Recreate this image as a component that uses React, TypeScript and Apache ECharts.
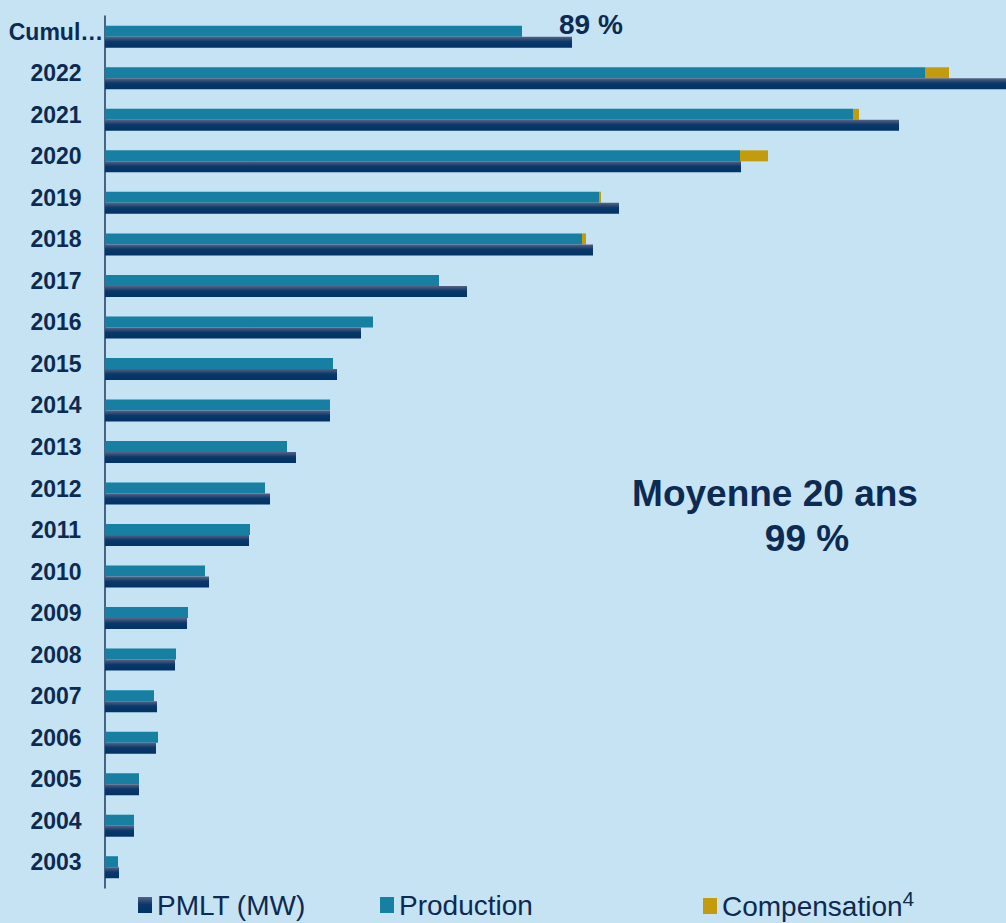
import React, { useEffect, useRef } from "react";
import * as echarts from "echarts";

const categories = ["Cumul…", "2022", "2021", "2020", "2019", "2018", "2017", "2016", "2015", "2014", "2013", "2012", "2011", "2010", "2009", "2008", "2007", "2006", "2005", "2004", "2003"];
const production = [417, 820, 748, 635, 494, 477, 334, 268, 228, 225, 182, 160, 145, 100, 83, 71, 49, 53, 34, 29, 13];
const compensation = [0, 24, 6, 28, 2, 4, 0, 0, 0, 0, 0, 0, 0, 0, 0, 0, 0, 0, 0, 0, 0];
const pmlt = [467, 901, 794, 636, 514, 488, 362, 256, 232, 225, 191, 165, 144, 104, 82, 70, 52, 51, 34, 29, 14];
const cumulLabel = "89 %";
const averageTitle = "Moyenne 20 ans";
const averageValue = "99 %";

const TEXT = "#0c2a52";
const FONT = '"Liberation Sans", Arial, sans-serif';

export default function App() {
  const ref = useRef<HTMLDivElement>(null);
  useEffect(() => {
    if (!ref.current) return;
    const chart = echarts.init(ref.current, null, { renderer: "svg" });
    const pmltColor = new echarts.graphic.LinearGradient(0, 0, 0, 1, [
      { offset: 0, color: "#5a6282" },
      { offset: 0.45, color: "#0a386a" },
      { offset: 1, color: "#003366" },
    ]);
    const legendBase = {
      orient: "horizontal",
      top: 886,
      itemWidth: 14,
      itemHeight: 16,
      icon: "rect",
      textStyle: { color: TEXT, fontSize: 28, fontFamily: FONT },
    };
    chart.setOption({
      animation: false,
      backgroundColor: "#c5e3f3",
      grid: { left: 105, right: 0, top: 16, height: 872, containLabel: false },
      xAxis: { type: "value", min: 0, max: 901, show: false },
      yAxis: {
        type: "category",
        inverse: true,
        data: categories,
        axisTick: { show: false },
        axisLine: { show: true, lineStyle: { color: "#1b3a60", width: 1.5 } },
        axisLabel: {
          color: TEXT,
          fontWeight: "bold",
          fontSize: 23,
          fontFamily: FONT,
          align: "center",
          verticalAlign: "bottom",
          lineHeight: 10,
          margin: 49,
        },
      },
      legend: [
        { ...legendBase, left: 133, data: ["PMLT (MW)"] },
        { ...legendBase, left: 375, data: ["Production"] },
        {
          ...legendBase,
          top: 883,
          left: 698,
          data: ["Compensation"],
          formatter: "{a|Compensation}{s|4}",
          textStyle: {
            color: TEXT,
            fontSize: 28,
            fontFamily: FONT,
            rich: {
              a: { color: TEXT, fontSize: 28, fontFamily: FONT, lineHeight: 36 },
              s: { color: TEXT, fontSize: 21, fontFamily: FONT, lineHeight: 21, verticalAlign: "top" },
            },
          },
        },
      ],
      series: [
        {
          name: "Production",
          type: "bar",
          stack: "prod",
          data: production,
          barWidth: 11,
          barGap: "0%",
          itemStyle: { color: "#177fa2" },
        },
        {
          name: "Compensation",
          type: "bar",
          stack: "prod",
          data: compensation,
          barWidth: 11,
          barGap: "0%",
          itemStyle: { color: "#c39c0d" },
        },
        {
          name: "PMLT (MW)",
          type: "bar",
          data: pmlt,
          barWidth: 11,
          barGap: "0%",
          itemStyle: { color: pmltColor },
        },
      ],
      graphic: [
        {
          type: "text",
          left: 559,
          top: 10,
          style: { text: cumulLabel, font: `bold 28px ${FONT}`, fill: TEXT },
        },
        {
          type: "text",
          x: 775,
          y: 493,
          style: { text: averageTitle, font: `bold 37px ${FONT}`, fill: TEXT, textAlign: "center", textVerticalAlign: "middle" },
        },
        {
          type: "text",
          x: 807,
          y: 538,
          style: { text: averageValue, font: `bold 37px ${FONT}`, fill: TEXT, textAlign: "center", textVerticalAlign: "middle" },
        },
      ],
    });
    return () => chart.dispose();
  }, []);
  return <div ref={ref} style={{ position: "fixed", left: 0, top: 0, width: 1006, height: 923 }} />;
}
